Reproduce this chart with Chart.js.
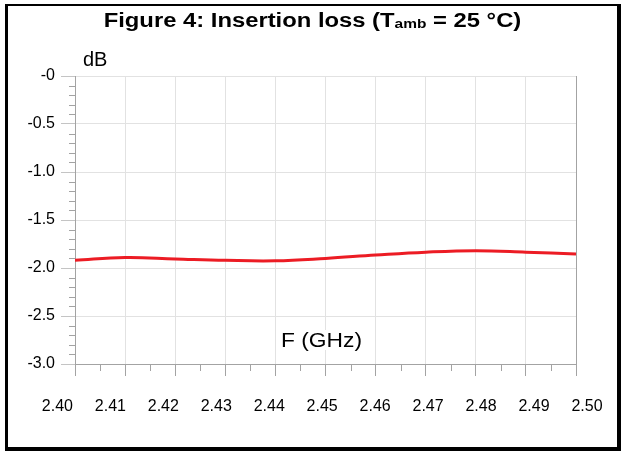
<!DOCTYPE html>
<html>
<head>
<meta charset="utf-8">
<script src="https://cdn.jsdelivr.net/npm/chart.js@4.4.1/dist/chart.umd.min.js"></script>
<style>
    html, body { margin: 0; padding: 0; background: #fff; }
    #wrap { position: relative; width: 621px; height: 451px; overflow: hidden; font-family: "Liberation Sans", Arial, sans-serif; }
    #frame { position: absolute; left: 5px; top: 4px; width: 616px; height: 447px; box-sizing: border-box;
             border-style: solid; border-color: #000; border-width: 2px 4px 4px 3px; }
    canvas { position: absolute; left: 0; top: 0; }
    .txt { position: absolute; white-space: nowrap; line-height: 1; color: #000; }
    #title { left: 0; width: 625px; top: 10px; text-align: center; font-size: 20px; font-weight: bold; }
    #title .in { display: inline-block; transform: scaleX(1.19); }
    #title .sub { font-size: 13px; position: relative; top: 1px; }
    #unitY { left: 83px; top: 49px; font-size: 20px; }
    #unitX { left: 281px; top: 330px; font-size: 20px; background: #fff; transform: scaleX(1.14); transform-origin: left center; }
</style>
</head>
<body>
<div id="wrap">
    <div id="frame"></div>
    <canvas id="chart" width="621" height="451"></canvas>
    <div class="txt" id="title"><span class="in">Figure 4: Insertion loss (T<span class="sub">amb</span> = 25 °C)</span></div>
    <div class="txt" id="unitY">dB</div>
    <div class="txt" id="unitX">F (GHz)</div>
</div>
<script>
const freqGHz = [2.40, 2.41, 2.42, 2.43, 2.44, 2.45, 2.46, 2.47, 2.48, 2.49, 2.50];
const lossDb  = [-1.92, -1.89, -1.905, -1.92, -1.925, -1.90, -1.865, -1.835, -1.82, -1.835, -1.855];

// Axis ticks
const xTickValues = [2.40, 2.41, 2.42, 2.43, 2.44, 2.45, 2.46, 2.47, 2.48, 2.49, 2.50];
const xTickLabels = ['2.40', '2.41', '2.42', '2.43', '2.44', '2.45', '2.46', '2.47', '2.48', '2.49', '2.50'];
const yTickValues = [0, -0.5, -1.0, -1.5, -2.0, -2.5, -3.0];
const yTickLabels = ['-0', '-0.5', '-1.0', '-1.5', '-2.0', '-2.5', '-3.0'];

const FONT = '"Liberation Sans", Arial, sans-serif';
const GRID = '#e2e2e2';
const AXIS = '#a3a3a3';

// the frequency labels in the source sit a little wider apart than the grid
const labelSpread = 1.057;
const labelShift = 17.6;

// Minor ticks and the spread-out x labels
const axisExtras = {
    id: 'axisExtras',
    afterDraw(chart) {
        const { ctx, chartArea } = chart;
        const xs = chart.scales.x;
        const ys = chart.scales.y;
        ctx.save();
        ctx.strokeStyle = AXIS;
        ctx.lineWidth = 1;
        ctx.beginPath();
        // y minor ticks every 0.1 dB
        for (let i = 1; i < 30; i++) {
            if (i % 5 === 0) continue;
            const y = Math.round(ys.getPixelForValue(-i / 10)) + 0.5;
            ctx.moveTo(chartArea.left - 6, y);
            ctx.lineTo(chartArea.left, y);
        }
        // x minor ticks halfway between the labelled ones
        for (let i = 0; i < xTickValues.length - 1; i++) {
            const mid = (xTickValues[i] + xTickValues[i + 1]) / 2;
            const x = Math.round(xs.getPixelForValue(mid)) + 0.5;
            ctx.moveTo(x, chartArea.bottom);
            ctx.lineTo(x, chartArea.bottom + 7);
        }
        ctx.stroke();

        ctx.fillStyle = '#000';
        ctx.font = '16px ' + FONT;
        ctx.textAlign = 'center';
        ctx.textBaseline = 'middle';
        xTickValues.forEach((v, i) => {
            const p = xs.getPixelForValue(v);
            const cx = xs.left + (p - xs.left) * labelSpread - labelShift;
            ctx.fillText(xTickLabels[i], cx, chartArea.bottom + 43);
        });
        ctx.restore();
    }
};

const ctx = document.getElementById('chart');
new Chart(ctx, {
    type: 'line',
    data: {
        datasets: [{
            data: freqGHz.map((f, i) => ({ x: f, y: lossDb[i] })),
            borderColor: '#ec1c24',
            borderWidth: 3,
            pointRadius: 0,
            tension: 0.4,
            fill: false
        }]
    },
    options: {
        responsive: false,
        animation: false,
        events: [],
        layout: { padding: { left: 0, top: 76, right: 45, bottom: 47 } },
        plugins: {
            legend: { display: false },
            title: { display: false },
            tooltip: { enabled: false }
        },
        scales: {
            x: {
                type: 'linear',
                min: 2.40,
                max: 2.50,
                afterFit: scale => { scale.height = 40; },
                ticks: { stepSize: 0.01, display: false },
                grid: {
                    color: c => (c.index === xTickValues.length - 1 ? AXIS : GRID),
                    tickColor: AXIS,
                    tickLength: 12
                },
                border: { color: AXIS, width: 1 }
            },
            y: {
                min: -3,
                max: 0,
                afterFit: scale => { scale.width = 75; },
                ticks: {
                    stepSize: 0.5,
                    padding: 6,
                    color: '#000',
                    font: { family: FONT, size: 16 },
                    callback: v => {
                        const i = yTickValues.findIndex(t => Math.abs(t - v) < 1e-6);
                        return i >= 0 ? yTickLabels[i] : '';
                    }
                },
                grid: { color: GRID, tickColor: '#c4c4c4', tickLength: 14 },
                border: { color: AXIS, width: 1 }
            }
        }
    },
    plugins: [axisExtras]
});
</script>
</body>
</html>
